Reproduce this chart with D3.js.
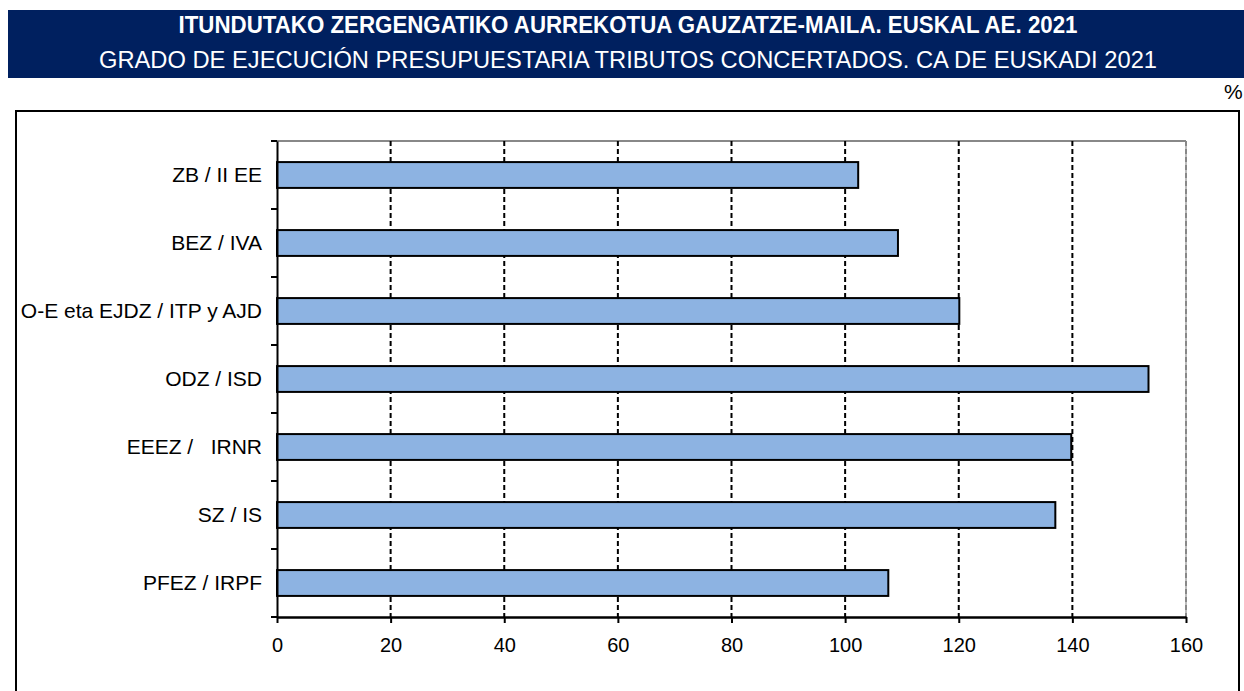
<!DOCTYPE html>
<html>
<head>
<meta charset="utf-8">
<script src="https://cdn.jsdelivr.net/npm/d3@7"></script>
<style>
  html, body { margin: 0; padding: 0; background: #fff; }
  svg { display: block; font-family: "Liberation Sans", Arial, sans-serif; }
  text { white-space: pre; }
</style>
</head>
<body>
<svg id="chart" width="1244" height="691"></svg>
<script>
// Tributos concertados: grado de ejecución presupuestaria (%)
const categories = [
  "ZB / II EE",
  "BEZ / IVA",
  "O-E eta EJDZ / ITP y AJD",
  "ODZ / ISD",
  "EEEZ /   IRNR",
  "SZ / IS",
  "PFEZ / IRPF"
];
const values = [102.3, 109.3, 120.1, 153.4, 139.8, 137.0, 107.6];
const xTicks = [0, 20, 40, 60, 80, 100, 120, 140, 160];
const titleEu = "ITUNDUTAKO ZERGENGATIKO AURREKOTUA GAUZATZE-MAILA. EUSKAL AE. 2021";
const titleEs = "GRADO DE EJECUCIÓN PRESUPUESTARIA TRIBUTOS CONCERTADOS. CA DE EUSKADI 2021";
const unitLabel = "%";

const svg = d3.select("#chart");

// Header band
svg.append("rect")
  .attr("x", 8).attr("y", 10).attr("width", 1236).attr("height", 68)
  .attr("fill", "#00205F");
svg.append("text")
  .attr("x", 628).attr("y", 33)
  .attr("text-anchor", "middle")
  .attr("fill", "#fff").attr("font-weight", "bold").attr("font-size", 23)
  .attr("textLength", 899).attr("lengthAdjust", "spacingAndGlyphs")
  .text(titleEu);
svg.append("text")
  .attr("x", 628).attr("y", 68)
  .attr("text-anchor", "middle")
  .attr("fill", "#fff").attr("font-size", 23)
  .attr("textLength", 1058).attr("lengthAdjust", "spacingAndGlyphs")
  .text(titleEs);

// Unit label
svg.append("text")
  .attr("x", 1224).attr("y", 99)
  .attr("font-size", 21).attr("fill", "#000")
  .text(unitLabel);

// Outer frame
svg.append("rect")
  .attr("x", 16).attr("y", 111).attr("width", 1223).attr("height", 600)
  .attr("fill", "none").attr("stroke", "#000").attr("stroke-width", 2);

// Plot area
const plot = { left: 277, right: 1186, top: 141, bottom: 617 };

const x = d3.scaleLinear()
  .domain([0, 160])
  .range([plot.left, plot.right]);

const y = d3.scaleBand()
  .domain(categories)
  .range([plot.top, plot.bottom])
  .padding(0);

const g = svg.append("g");

// Plot border (top and right, grey)
g.append("line")
  .attr("x1", plot.left).attr("x2", plot.right)
  .attr("y1", plot.top).attr("y2", plot.top)
  .attr("stroke", "#888").attr("stroke-width", 2);
g.append("line")
  .attr("x1", plot.right).attr("x2", plot.right)
  .attr("y1", plot.top).attr("y2", plot.bottom)
  .attr("stroke", "#bbb").attr("stroke-width", 2);

// Vertical dashed gridlines
g.selectAll(".grid")
  .data(xTicks.filter(d => d > 0))
  .join("line")
  .attr("class", "grid")
  .attr("x1", d => x(d)).attr("x2", d => x(d))
  .attr("y1", plot.top).attr("y2", plot.bottom)
  .attr("stroke", d => d === 160 ? "#888" : "#000")
  .attr("stroke-width", 2)
  .attr("stroke-dasharray", "5,3");

// Bars
const barH = y.bandwidth() * 0.38;
g.selectAll(".bar")
  .data(categories.map((c, i) => ({ c, v: values[i] })))
  .join("rect")
  .attr("class", "bar")
  .attr("x", x(0))
  .attr("y", d => y(d.c) + (y.bandwidth() - barH) / 2)
  .attr("width", d => x(d.v) - x(0))
  .attr("height", barH)
  .attr("fill", "#8DB3E2")
  .attr("stroke", "#000")
  .attr("stroke-width", 2);

// X axis
const xAxis = d3.axisBottom(x)
  .tickValues(xTicks)
  .tickSize(6)
  .tickSizeOuter(0)
  .tickPadding(15);
const xg = svg.append("g")
  .attr("transform", `translate(0,${plot.bottom})`)
  .call(xAxis);
xg.select(".domain").attr("stroke", "#000").attr("stroke-width", 2.5);
xg.selectAll(".tick line").attr("stroke", "#000").attr("stroke-width", 2);
xg.selectAll(".tick text")
  .attr("font-size", 20).attr("fill", "#000")
  .attr("font-family", "Liberation Sans, Arial, sans-serif");

// Y axis: category labels, ticks on band boundaries
const yAxis = d3.axisLeft(y).tickSize(0).tickPadding(15);
const yg = svg.append("g")
  .attr("transform", `translate(${plot.left},0)`)
  .call(yAxis);
yg.select(".domain").attr("stroke", "#000").attr("stroke-width", 2);
yg.selectAll(".tick text")
  .attr("font-size", 21).attr("fill", "#000")
  .attr("font-family", "Liberation Sans, Arial, sans-serif");

const bounds = categories.map(c => y(c)).concat([plot.bottom]);
yg.selectAll(".bound")
  .data(bounds)
  .join("line")
  .attr("class", "bound")
  .attr("x1", -6).attr("x2", 0)
  .attr("y1", d => d).attr("y2", d => d)
  .attr("stroke", "#000").attr("stroke-width", 2);
</script>
</body>
</html>
